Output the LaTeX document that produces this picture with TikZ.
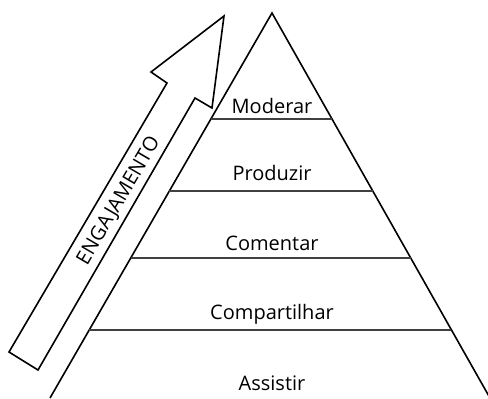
\documentclass[tikz,border=0pt]{standalone}
\usepackage{fontspec}
\setmainfont{Open Sans}
\usetikzlibrary{calc}

\begin{document}
\begin{tikzpicture}[x=0.5pt,y=-0.5pt,
    contorno/.style={line width=0.8pt, line join=miter},
    nivel/.style={line width=0.8pt, black!75},
    rotulo/.style={font=\fontsize{10}{12}\selectfont, anchor=base}]
  \useasboundingbox (0,0) rectangle (488,398);
  % Pirâmide
  \coordinate (topo) at (272,13);
  \coordinate (baseE) at (50,398);
  \coordinate (baseD) at (490,398);
  \draw[contorno] (baseE) -- (topo) -- (baseD);
  % Linhas dos níveis
  \foreach \t in {0.275, 0.462, 0.636, 0.823}
    \draw[nivel] ($(topo)!\t!(baseE)$) -- ($(topo)!\t!(baseD)$);
  % Níveis
  \node[rotulo] (moderar) at (272,113) {Moderar};
  \node[rotulo] (produzir) at (272,180) {Produzir};
  \node[rotulo] (comentar) at (272,250) {Comentar};
  \node[rotulo] (compartilhar) at (272,319) {Compartilhar};
  \node[rotulo] (assistir) at (272,390) {Assistir};
  % Seta
  \draw[contorno] (9,352) -- (167,83) -- (151,72) -- (224,16) -- (212,108)
    -- (195,98) -- (38,370) -- cycle;
  \node[font=\fontsize{10}{12}\selectfont, rotate=59.6] (engajamento) at (119,201) {ENGAJAMENTO};
\end{tikzpicture}
\end{document}
